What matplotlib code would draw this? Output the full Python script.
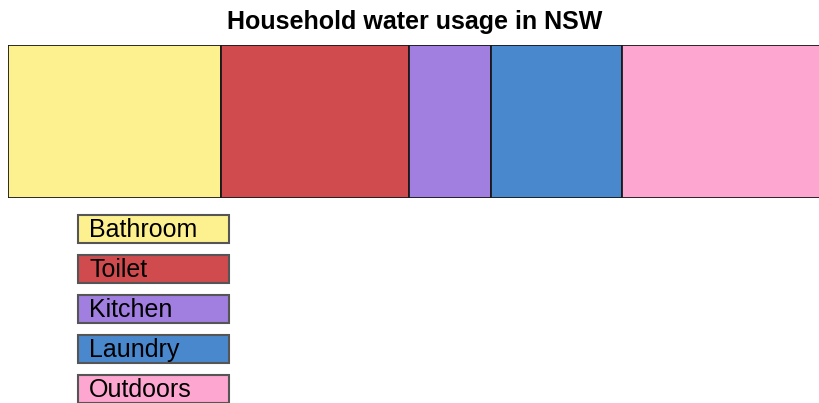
import numpy as np
import matplotlib.pyplot as plt
from matplotlib.patches import Rectangle

plt.rcParams['font.family'] = ['Liberation Sans', 'DejaVu Sans']

# Share of household water use (%)
categories = ['Bathroom', 'Toilet', 'Kitchen', 'Laundry', 'Outdoors']
usage = [26, 23, 10, 16, 25]
colors = ['#FDF18F', '#D04B4E', '#A07FE0', '#4A88CE', '#FDA6D0']

W, H = 819, 403
fig = plt.figure(figsize=(W / 100, H / 100), dpi=100)

# axes runs past the right edge of the figure, like the original crop
ax = fig.add_axes([8 / W, (H - 198) / H, 819 / W, 153 / H])
lefts = np.concatenate([[0], np.cumsum(usage)[:-1]])
for cat, val, left, col in zip(categories, usage, lefts, colors):
    ax.barh(0, val, left=left, height=1.0, color=col,
            edgecolor='#1a1a1a', linewidth=1.3, label=cat)
ax.set_xlim(0, 100)
ax.set_ylim(-0.5, 0.5)
ax.axis('off')

fig.text(415 / W, 1 - 22 / H, 'Household water usage in NSW',
         ha='center', va='center', fontsize=18, fontweight='bold')

# legend: coloured boxes with the label written inside
box_w, box_h = 151, 28
for i, (cat, col) in enumerate(zip(categories, colors)):
    top = 215 + i * 40
    fig.patches.append(Rectangle((78 / W, 1 - (top + box_h) / H), box_w / W, box_h / H,
                                 transform=fig.transFigure, facecolor=col,
                                 edgecolor='#555555', linewidth=1.5))
    fig.text(89 / W, 1 - (top + box_h / 2 + 1) / H, cat,
             ha='left', va='center', fontsize=18)

fig.savefig('out.png', dpi=100)
